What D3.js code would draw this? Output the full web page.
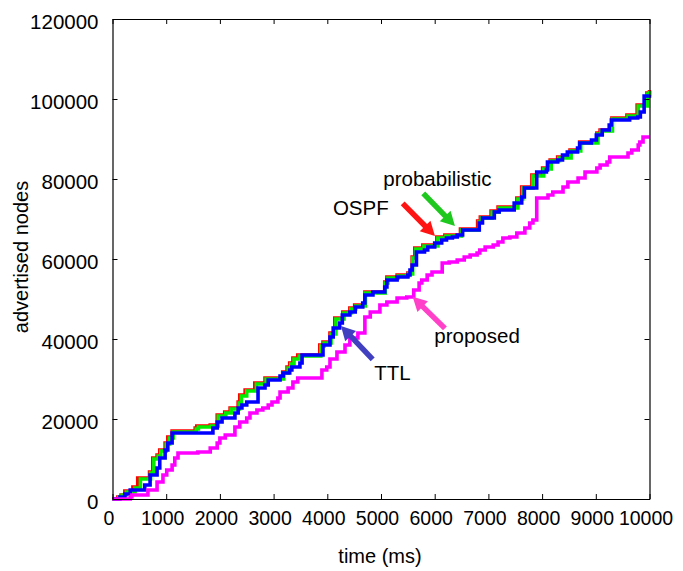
<!DOCTYPE html>
<html><head><meta charset="utf-8">
<script src="https://cdn.jsdelivr.net/npm/d3@7"></script>
<style>
body{margin:0;background:#fff;}
svg{display:block;font-family:Arial,"Liberation Sans",Helvetica,sans-serif;}
</style></head><body>
<svg id="chart" width="683" height="571"></svg>
<script>
// Axis ticks
const xTicks = [0,1000,2000,3000,4000,5000,6000,7000,8000,9000,10000];
const yTicks = [0,20000,40000,60000,80000,100000,120000];

// OSPF flooding: cumulative advertised nodes (step series)
const ospfTime  = [0,100,160,230,380,470,690,750,830,880,980,1030,1110,1540,1570,1820,1950,2090,2190,2340,2370,2470,2650,2840,3170,3250,3300,3360,3450,3860,3920,4050,4140,4290,4420,4510,4700,5070,5110,5300,5500,5580,5630,5780,6040,6190,6480,6800,6850,7050,7180,7530,7620,7810,8010,8150,8290,8520,8700,9020,9080,9300,9580,9770,9950,10000];
const ospfNodes = [0,500,1000,2000,3000,5250,6750,10250,11000,12250,14000,15500,17000,17750,18250,18500,21000,21750,22750,24250,26000,27250,29000,30250,31750,33000,34000,35250,36000,38500,39250,41500,45250,46750,47750,48500,51750,54250,55500,56000,56500,60500,62750,63500,65500,66000,67500,69500,70500,72000,73000,75250,78000,81000,82750,84750,85500,87250,89250,91500,92250,95250,96000,98500,101500,102250];

// Probabilistic flooding
const probTime  = [0,120,180,260,420,520,710,770,850,900,1000,1060,1130,1560,1600,1840,1970,2110,2210,2360,2400,2500,2680,2860,3190,3270,3320,3380,3480,3880,3940,4070,4160,4310,4440,4530,4710,5080,5130,5320,5510,5590,5650,5800,6060,6210,6500,6820,6870,7070,7200,7550,7640,7830,8030,8170,8310,8540,8720,9040,9100,9310,9600,9790,9960,10000];
const probNodes = [0,500,1000,1750,2750,5000,6500,10000,10750,12000,13750,15250,16750,17500,18000,18250,20750,21500,22500,24000,25750,27000,28750,30000,31500,32750,33750,35000,35750,38250,39000,41250,45000,46500,47500,48250,51500,54000,55250,55750,56250,60250,62500,63250,65250,65750,67250,69250,70250,71750,72750,75000,77750,80750,82500,84500,85250,87000,89000,91250,92000,95000,95750,98250,101250,102000];

// TTL-limited flooding
const ttlTime  = [0,140,230,330,600,700,830,880,980,1030,1110,1870,1950,2040,2280,2340,2410,2500,2710,2840,2900,3120,3180,3300,3340,3490,3530,3920,4050,4110,4230,4280,4420,4520,4660,4700,4850,5070,5110,5300,5500,5540,5580,5660,5810,5870,6000,6130,6220,6330,6420,6520,6830,6890,7110,7200,7480,7620,7670,7900,8080,8100,8290,8380,8470,8660,8700,8920,9010,9120,9250,9290,9630,9780,9830,9900,10000];
const ttlNodes = [0,500,1250,2250,3500,6000,7750,10250,12250,14000,16500,17750,19250,20250,21500,22750,23500,24250,27750,28500,29750,30750,31500,32250,33000,34000,36000,38500,40500,42750,44000,46000,46750,48000,49000,51000,51750,53000,54750,55500,56000,57250,58500,61750,62250,63000,64000,64750,65250,65500,66000,67250,69000,70250,71750,72250,74000,75500,77750,81750,82250,84250,84750,86000,86750,87750,89000,89750,91000,92250,93500,94750,95250,95500,96750,100750,101000];

// Proposed scheme
const propTime  = [0,330,360,660,830,940,1010,1110,1160,1220,1590,1820,1950,2000,2100,2280,2370,2500,2560,2690,2800,2900,2970,3080,3120,3270,3360,3450,3900,3990,4050,4180,4330,4420,4570,4700,4800,4980,5110,5300,5480,5610,5710,5760,5860,5950,6140,6270,6420,6550,6660,6790,6840,6940,7090,7180,7270,7400,7530,7680,7770,7830,7900,8110,8200,8390,8480,8670,8800,9020,9080,9210,9260,9600,9670,9790,9820,9880,10000];
const propNodes = [0,500,1000,2250,4250,6000,7250,8500,10250,11500,11750,12750,14000,15250,16000,18000,19250,20250,21500,22250,22750,23500,24250,25250,26750,27750,29250,30250,32250,33000,35000,36750,38500,40250,41500,45500,46750,48500,49250,50250,50500,52250,54000,54750,56000,56750,59000,59250,59750,60500,61000,61500,62250,63000,63500,64250,65250,65500,66500,67750,69000,69750,75250,76000,76750,78000,79250,80250,81750,82750,83500,84250,85500,86500,87250,88500,89250,90500,90500];

// Annotations: label, text anchor point, arrow tail and tip (data units)
const noteLabels = ["OSPF","probabilistic","TTL","proposed"];
const noteText   = [[4104,71000],[5043,78250],[4875,29750],[5993,38900]];
const noteTail   = [[5404,73900],[5787,76400],[4845,34900],[6191,42650]];
const noteTip    = [[6005,65750],[6377,68250],[4255,43250],[5590,50550]];
const noteColors = ["#ff1414","#1ec81e","#4040c0","#ff40c8"];

const svg = d3.select("#chart");
const x = d3.scaleLinear().domain([0,10000]).range([112.5,649.5]);
const y = d3.scaleLinear().domain([0,120000]).range([499,19]);

// series lines
const series = [
  {t:ospfTime, v:ospfNodes, c:"#ff0000"},
  {t:probTime, v:probNodes, c:"#00ee00"},
  {t:ttlTime,  v:ttlNodes,  c:"#0000ff"},
  {t:propTime, v:propNodes, c:"#ff00ff"}
];
const line = d3.line().x(d=>x(d[0])).y(d=>y(d[1])).curve(d3.curveStepAfter);
svg.append("g").selectAll("path").data(series).join("path")
  .attr("d", s => line(s.t.map((t,i)=>[t,s.v[i]])))
  .attr("fill","none").attr("stroke",s=>s.c).attr("stroke-width",3.6)
  .attr("stroke-linejoin","miter");

// frame and inward ticks
const gx = svg.append("g").attr("transform",`translate(0,${y(0)})`)
  .call(d3.axisBottom(x).tickValues(xTicks).tickSizeInner(-5).tickSizeOuter(0).tickPadding(12).tickFormat(d3.format("d")));
const gxTop = svg.append("g").attr("transform",`translate(0,${y(120000)})`)
  .call(d3.axisTop(x).tickValues(xTicks).tickSizeInner(-5).tickSizeOuter(0).tickFormat(""));
const gy = svg.append("g").attr("transform",`translate(${x(0)},0)`)
  .call(d3.axisLeft(y).tickValues(yTicks).tickSizeInner(-5).tickSizeOuter(0).tickPadding(14).tickFormat(d3.format("d")));
const gyRight = svg.append("g").attr("transform",`translate(${x(10000)},0)`)
  .call(d3.axisRight(y).tickValues(yTicks).tickSizeInner(-5).tickSizeOuter(0).tickFormat(""));
[gx,gxTop,gy,gyRight].forEach(g=>{
  g.select(".domain").attr("stroke","#000").attr("stroke-width",1.2);
  g.selectAll(".tick line").attr("stroke","#000");
});
gx.selectAll("text").attr("font-size",19.5).attr("fill","#000").attr("font-family","Arial, 'Liberation Sans', sans-serif").attr("dx",-4);
gy.selectAll("text").attr("font-size",20.5).attr("fill","#000").attr("font-family","Arial, 'Liberation Sans', sans-serif").attr("dy","0.45em");

// axis titles
svg.append("text").attr("x",380).attr("y",563).attr("text-anchor","middle")
  .attr("font-size",20).text("time (ms)");
svg.append("text").attr("transform","translate(28,257) rotate(-90)").attr("text-anchor","middle")
  .attr("font-size",20).text("advertised nodes");

// annotation arrows
function arrow(p0,p1,color){
  const [x0,y0]=[x(p0[0]),y(p0[1])], [x1,y1]=[x(p1[0]),y(p1[1])];
  const dx=x1-x0, dy=y1-y0, L=Math.hypot(dx,dy), ux=dx/L, uy=dy/L;
  const hl=14, hw=7.5;
  const bx=x1-ux*hl, by=y1-uy*hl;
  svg.append("line").attr("x1",x0).attr("y1",y0).attr("x2",bx+ux).attr("y2",by+uy)
    .attr("stroke",color).attr("stroke-width",5.5);
  svg.append("path").attr("d",`M${x1},${y1}L${bx-uy*hw},${by+ux*hw}L${bx+uy*hw},${by-ux*hw}Z`).attr("fill",color);
}
noteLabels.forEach((lab,i)=>{
  arrow(noteTail[i],noteTip[i],noteColors[i]);
  svg.append("text").attr("x",x(noteText[i][0])).attr("y",y(noteText[i][1]))
    .attr("font-size",20.5).attr("fill","#000").text(lab);
});
</script>
</body></html>
